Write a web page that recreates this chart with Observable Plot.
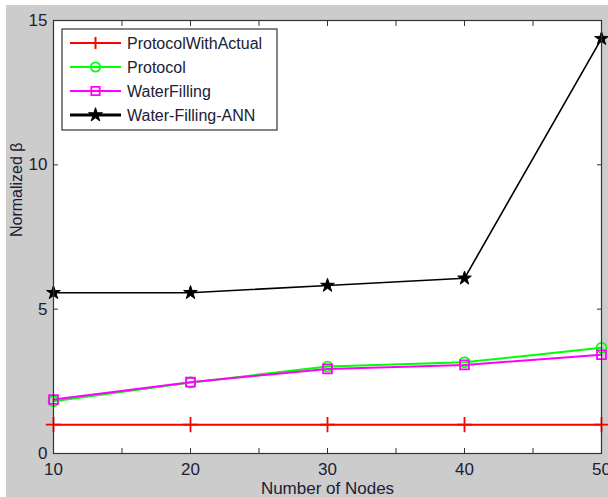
<!DOCTYPE html>
<html><head><meta charset="utf-8">
<script src="https://cdn.jsdelivr.net/npm/d3@7"></script>
<script src="https://cdn.jsdelivr.net/npm/@observablehq/plot@0.6"></script>
<style>
body{margin:0;background:#fff;}
#chart{position:absolute;left:6px;top:5px;}
#chart svg{display:block;background:#cccccc;}
</style>
</head><body><div id="chart"></div>
<script>
const nodes = [10, 20, 30, 40, 50];
const protocolWithActual = [1, 1, 1, 1, 1];
const protocol = [1.81, 2.46, 3.01, 3.16, 3.66];
const waterFilling = [1.87, 2.47, 2.93, 3.07, 3.42];
const waterFillingANN = [5.57, 5.57, 5.82, 6.07, 14.37];
const seriesNames = ["ProtocolWithActual", "Protocol", "WaterFilling", "Water-Filling-ANN"];
const seriesColors = ["#ff0000", "#00ff00", "#ff00ff", "#000000"];
const seriesSymbols = ["plus", "circle", "square", "star"];
const xTicks = [10, 15, 20, 25, 30, 35, 40, 45, 50];
const yTicks = [0, 5, 10, 15];

const allValues = [protocolWithActual, protocol, waterFilling, waterFillingANN];
const rows = [];
seriesNames.forEach((s, i) => nodes.forEach((n, j) => rows.push({series: s, x: n, y: allValues[i][j]})));

const W = 602, H = 492;
const font = "Liberation Sans, Arial, sans-serif";
const textColor = "#202035";

const plot = Plot.plot({
  width: W, height: H,
  marginLeft: 47, marginRight: 7, marginTop: 15, marginBottom: 44,
  style: {fontFamily: font, fontSize: "16px", color: textColor, background: "#cccccc"},
  x: {domain: [10, 50]},
  y: {domain: [0, 15]},
  color: {domain: seriesNames, range: seriesColors},
  symbol: {domain: seriesNames, range: seriesSymbols},
  marks: [
    Plot.frame({fill: "white", stroke: null}),
    Plot.axisX(xTicks, {anchor: "bottom", tickSize: -5, tickPadding: 14, stroke: "#333",
      tickFormat: d => d % 10 === 0 ? String(d) : "", fontSize: 17, fill: textColor,
      label: "Number of Nodes", labelAnchor: "center", labelArrow: "none", labelOffset: 40}),
    Plot.axisX(xTicks, {anchor: "top", tickSize: -5, stroke: "#333", tickFormat: () => "", label: null}),
    Plot.axisY(yTicks, {anchor: "left", tickSize: -5, tickPadding: 11, stroke: "#333",
      fontSize: 17, fill: textColor, label: null}),
    Plot.text(["Normalized β"], {frameAnchor: "left", rotate: -90, dx: -37, fontSize: 16, fill: textColor}),
    Plot.axisY(yTicks, {anchor: "right", tickSize: -5, stroke: "#333", tickFormat: () => "", label: null}),
    Plot.line(rows, {x: "x", y: "y", z: "series", stroke: "series",
      strokeWidth: d => d.series === "Water-Filling-ANN" ? 1.6 : 2}),
    Plot.dot(rows.filter(d => d.series !== "Water-Filling-ANN"), {x: "x", y: "y", symbol: "series", stroke: "series", r: 5, strokeWidth: 1.8}),
    Plot.dot(rows.filter(d => d.series === "Water-Filling-ANN"), {x: "x", y: "y", symbol: "series", fill: "series", stroke: "series", r: 4.3, strokeWidth: 1}),
    Plot.frame({stroke: "#333", strokeWidth: 1.2})
  ]
});
document.getElementById("chart").appendChild(plot);

// legend
const svg = d3.select(plot);
const lg = svg.append("g").attr("font-family", font).attr("font-size", 16).attr("fill", textColor)
  .attr("text-anchor", "start");
lg.append("rect").attr("x", 56).attr("y", 24).attr("width", 215).attr("height", 101)
  .attr("fill", "white").attr("stroke", "#333").attr("stroke-width", 1.2);
const sym = {circle: d3.symbolCircle, square: d3.symbolSquare, star: d3.symbolStar, plus: null};
seriesNames.forEach((s, i) => {
  const y = 38 + i * 24;
  lg.append("line").attr("x1", 64).attr("x2", 115).attr("y1", y).attr("y2", y)
    .attr("stroke", seriesColors[i]).attr("stroke-width", i === 3 ? 3 : 2);
  if (seriesSymbols[i] === "plus") {
    lg.append("line").attr("x1", 89.5).attr("x2", 89.5).attr("y1", y - 6).attr("y2", y + 6)
      .attr("stroke", seriesColors[i]).attr("stroke-width", 2);
  } else {
    const area = seriesSymbols[i] === "star" ? 60 : 70;
    lg.append("path").attr("d", d3.symbol(sym[seriesSymbols[i]], area)())
      .attr("transform", `translate(89.5,${y})`)
      .attr("fill", i === 3 ? "#000" : "none").attr("stroke", seriesColors[i]).attr("stroke-width", i === 3 ? 1 : 1.8);
  }
  lg.append("text").attr("x", 121).attr("y", y).attr("dy", "0.35em").attr("text-anchor", "start").text(s);
});
</script>
</body></html>
